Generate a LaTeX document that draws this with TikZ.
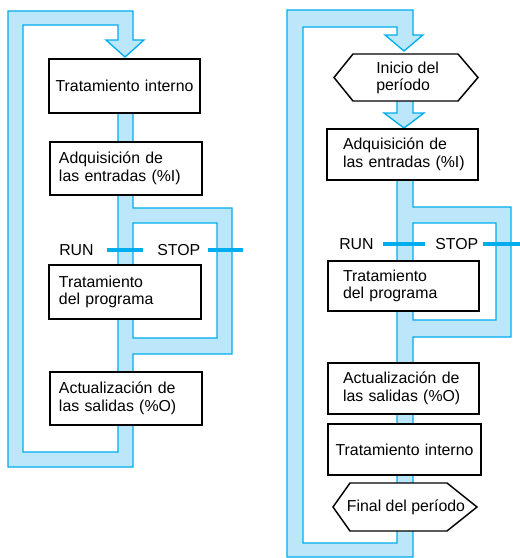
\documentclass[tikz,border=0pt]{standalone}
\usepackage{fontspec}
\setmainfont{Liberation Sans}
\definecolor{bandfill}{RGB}{188,230,250}
\definecolor{bandline}{RGB}{0,173,239}
\newcommand{\boxfont}{\fontsize{11.9}{13.3}\selectfont}
\tikzset{
  band/.style={fill=bandfill, draw=bandline, line width=1pt, line join=miter, even odd rule},
  procbox/.style={draw=black, fill=white, line width=1.1pt, font=\boxfont, inner ysep=0pt, outer sep=0pt},
  hexbox/.style={draw=black, fill=white, line width=1.1pt, line join=miter},
  switchline/.style={draw=bandline, line width=3pt},
  lbl/.style={font=\boxfont, inner sep=0pt, anchor=west},
}
\begin{document}
\begin{tikzpicture}[x=0.75pt, y=-0.75pt]
\useasboundingbox (0,0) rectangle (520,558);
\fill[white] (0,0) rectangle (520,558);

% ---------- left diagram band ----------
\path[band] (8,11) -- (133,11) -- (133,40) -- (144,40) -- (125,57) -- (106,40) -- (118,40)
  -- (118,25) -- (23,25) -- (23,452) -- (118,452) -- (118,85) -- (133,85) -- (133,208)
  -- (232,208) -- (232,354) -- (133,354) -- (133,467) -- (8,467) -- cycle
  (133,223) rectangle (217,338);

% switch lines left
\draw[switchline] (107,250) -- (143,250);
\draw[switchline] (208,250) -- (243,250);
\node[lbl] (runL) at (59,250) {RUN};
\node[lbl] (stopL) at (157,250) {STOP};

% left boxes
\node[procbox, text width=107.25pt, inner xsep=3pt, align=center, minimum height=40.5pt] (L1) at (124.5,86) {Tratamiento interno};
\node[procbox, text width=100.5pt, inner xsep=6.75pt, align=left, minimum height=39.75pt] (L2) at (126,168.5) {\mbox{Adquisición de}\\\mbox{las entradas (\%I)}};
\node[procbox, text width=99pt, inner xsep=7.5pt, align=left, minimum height=40.5pt] (L3) at (125,292) {\mbox{Tratamiento}\\\mbox{del programa}};
\node[procbox, text width=100.5pt, inner xsep=6.75pt, align=left, minimum height=39.75pt] (L4) at (126,398.5) {\mbox{Actualización de}\\\mbox{las salidas (\%O)}};

% ---------- right diagram band ----------
\path[band] (287,10) -- (413,10) -- (413,35) -- (423,35) -- (404,51) -- (385,35) -- (397,35)
  -- (397,27) -- (303,27) -- (303,543) -- (397,543) -- (397,150) -- (413,150) -- (413,207)
  -- (511,207) -- (511,337) -- (413,337) -- (413,557) -- (287,557) -- cycle
  (413,223) rectangle (496,320);
\path[band] (397,90) -- (397,113) -- (384,113) -- (404,128) -- (424,113) -- (413,113) -- (413,90) -- cycle;

% switch lines right
\draw[switchline] (383,244) -- (425,244);
\draw[switchline] (483,244) -- (521,244);
\node[lbl] (runR) at (339,244) {RUN};
\node[lbl] (stopR) at (435,244) {STOP};

% hexagons
\draw[hexbox] (334,77.5) -- (353,54) -- (458,54) -- (478,77.5) -- (458,101) -- (353,101) -- cycle;
\node[font=\boxfont, inner sep=0pt, anchor=west, align=left] (ini) at (376,78) {\fontsize{11.9}{14.2}\selectfont Inicio del\\período};
\draw[hexbox] (333,507) -- (350,483) -- (447,483) -- (477,507) -- (447,531) -- (350,531) -- cycle;
\node[font=\boxfont, inner sep=0pt] (fin) at (406,507) {Final del período};

% right boxes
\node[procbox, text width=89.25pt, inner xsep=12pt, align=left, minimum height=38.25pt] (R5) at (402.5,154.5) {\mbox{Adquisición de}\\\mbox{las entradas (\%I)}};
\node[procbox, text width=90.75pt, inner xsep=11.25pt, align=left, minimum height=37.5pt] (R6) at (403.5,286) {\mbox{Tratamiento}\\\mbox{del programa}};
\node[procbox, text width=90.75pt, inner xsep=11.25pt, align=left, minimum height=38.25pt] (R7) at (403.5,388.5) {\mbox{Actualización de}\\\mbox{las salidas (\%O)}};
\node[procbox, text width=108.75pt, inner xsep=3pt, align=center, minimum height=38.25pt] (R8) at (404.5,449.5) {Tratamiento interno};
\end{tikzpicture}
\end{document}
